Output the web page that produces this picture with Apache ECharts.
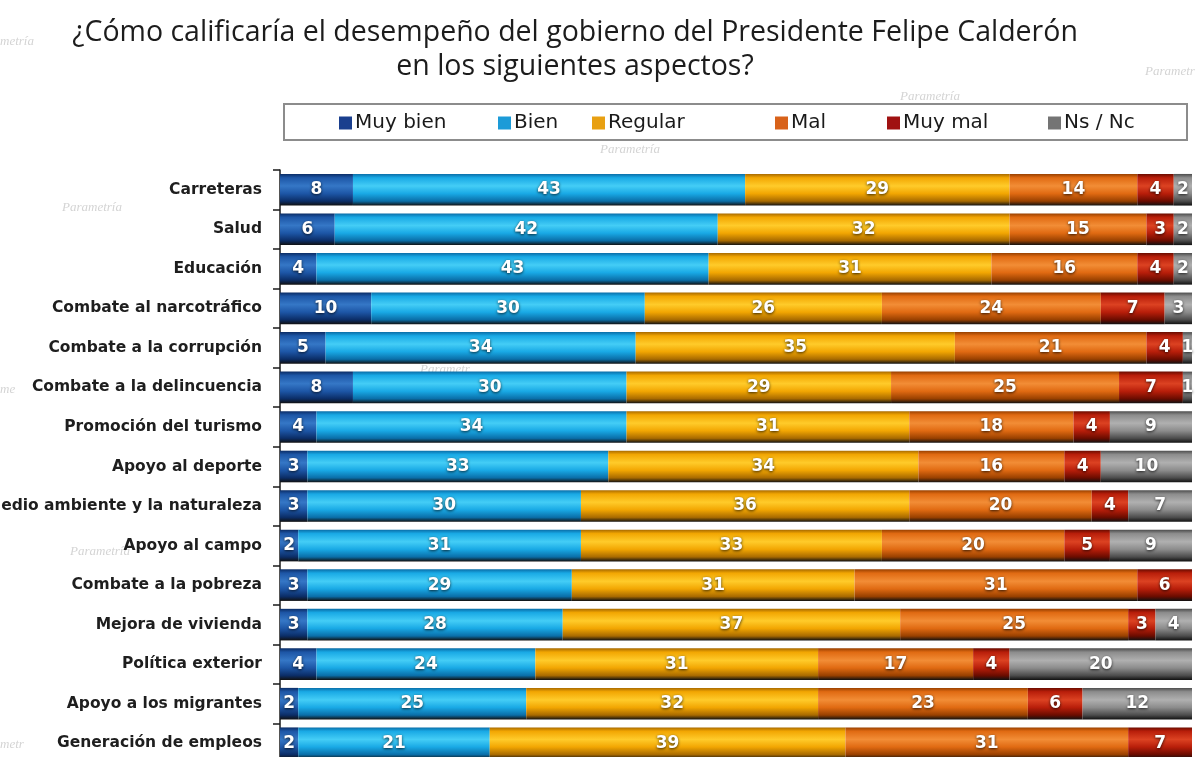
<!DOCTYPE html>
<html>
<head>
<meta charset="utf-8">
<title>Desempeño del gobierno</title>
<script src="https://cdn.jsdelivr.net/npm/echarts@6/dist/echarts.min.js"></script>
<style>
  html, body { margin: 0; padding: 0; background: #ffffff; }
  #chart { width: 1204px; height: 757px; }
</style>
</head>
<body>
<div id="chart"></div>
<script>
// Aspectos evaluados (de arriba hacia abajo)
const categories = [
  'Carreteras',
  'Salud',
  'Educación',
  'Combate al narcotráfico',
  'Combate a la corrupción',
  'Combate a la delincuencia',
  'Promoción del turismo',
  'Apoyo al deporte',
  'Medio ambiente y la naturaleza',
  'Apoyo al campo',
  'Combate a la pobreza',
  'Mejora de vivienda',
  'Política exterior',
  'Apoyo a los migrantes',
  'Generación de empleos'
];

// Porcentajes por respuesta
const muyBien = [8, 6, 4, 10, 5, 8, 4, 3, 3, 2, 3, 3, 4, 2, 2];
const bien    = [43, 42, 43, 30, 34, 30, 34, 33, 30, 31, 29, 28, 24, 25, 21];
const regular = [29, 32, 31, 26, 35, 29, 31, 34, 36, 33, 31, 37, 31, 32, 39];
const mal     = [14, 15, 16, 24, 21, 25, 18, 16, 20, 20, 31, 25, 17, 23, 31];
const muyMal  = [4, 3, 4, 7, 4, 7, 4, 4, 4, 5, 6, 3, 4, 6, 7];
const nsNc    = [2, 2, 2, 3, 1, 1, 9, 10, 7, 9, 0, 4, 20, 12, 0];

const seriesNames = ['Muy bien', 'Bien', 'Regular', 'Mal', 'Muy mal', 'Ns / Nc'];
const seriesData = [muyBien, bien, regular, mal, muyMal, nsNc];

// Tonos de cada respuesta: claro, base, oscuro, y color plano de la leyenda
const palette = [
  { light: '#3577c6', base: '#1d56a6', dark: '#0b2d66', flat: '#1a3f8e' },
  { light: '#44cdf6', base: '#19a9e5', dark: '#0a6ea8', flat: '#1c9bd8' },
  { light: '#ffcb2a', base: '#f2a602', dark: '#a86a00', flat: '#e8a012' },
  { light: '#f28d36', base: '#e06a12', dark: '#984000', flat: '#d8621a' },
  { light: '#dc4222', base: '#b81e0a', dark: '#6a0c00', flat: '#a01212' },
  { light: '#b0b0b0', base: '#8c8c8c', dark: '#4c4c4c', flat: '#747474' }
];

function barGradient(c) {
  return new echarts.graphic.LinearGradient(0, 0, 0, 1, [
    { offset: 0, color: c.dark },
    { offset: 0.12, color: c.base },
    { offset: 0.38, color: c.light },
    { offset: 0.62, color: c.base },
    { offset: 0.86, color: c.dark },
    { offset: 1, color: '#111111' }
  ]);
}

// Posiciones horizontales de cada entrada de la leyenda
const legendLeft = [339, 498, 592, 775, 887, 1048];

// Marcas de agua de fondo
const watermarks = [
  [62, 208, 'Parametría'], [600, 150, 'Parametría'], [900, 97, 'Parametría'],
  [1145, 72, 'Parametr'], [420, 370, 'Parametr'], [70, 552, 'Parametría'],
  [425, 716, 'Parametr'], [0, 42, 'metría'], [0, 390, 'me'], [0, 745, 'metr']
];

const chart = echarts.init(document.getElementById('chart'), null, { renderer: 'canvas' });

const option = {
  backgroundColor: '#ffffff',
  animation: false,
  graphic: [
    ...watermarks.map(w => ({
      type: 'text', silent: true, z: -2,
      style: {
        x: w[0], y: w[1], text: w[2],
        font: 'italic 13px "Liberation Serif"', fill: '#d4d4d4',
        align: 'left', verticalAlign: 'middle'
      }
    })),
    {
      type: 'text', silent: true,
      style: {
        x: 575, y: 33,
        text: '¿Cómo calificaría el desempeño del gobierno del Presidente Felipe Calderón',
        font: '28.5px "Open Sans"', fill: '#1c1c1c',
        align: 'center', verticalAlign: 'middle'
      }
    },
    {
      type: 'text', silent: true,
      style: {
        x: 575, y: 67,
        text: 'en los siguientes aspectos?',
        font: '28.5px "Open Sans"', fill: '#1c1c1c',
        align: 'center', verticalAlign: 'middle'
      }
    },
    {
      type: 'rect', silent: true, z: -1,
      shape: { x: 284, y: 104, width: 903, height: 36 },
      style: { fill: '#ffffff', stroke: '#8c8c8c', lineWidth: 2 }
    }
  ],
  legend: seriesNames.map((name, i) => ({
    data: [{ name: name, itemStyle: { color: palette[i].flat } }],
    left: legendLeft[i],
    top: 113,
    padding: 0,
    itemWidth: 13,
    itemHeight: 13,
    itemGap: 0,
    icon: 'rect',
    selectedMode: false,
    textStyle: {
      fontFamily: 'DejaVu Sans',
      fontSize: 20,
      color: '#1a1a1a',
      padding: [0, 0, 0, -2]
    }
  })),
  grid: {
    left: 280,
    top: 170,
    width: 912,
    height: 593,
    containLabel: false,
    outerBoundsMode: 'none'
  },
  xAxis: {
    type: 'value',
    min: 0,
    max: 100,
    show: false
  },
  yAxis: {
    type: 'category',
    data: categories,
    inverse: true,
    axisLine: { show: true, lineStyle: { color: '#1a1a1a', width: 1.5 } },
    axisTick: { show: true, length: 7, lineStyle: { color: '#1a1a1a', width: 1.5 } },
    axisLabel: {
      margin: 18,
      fontFamily: 'DejaVu Sans',
      fontWeight: 'bold',
      fontSize: 15.5,
      color: '#1e1e1e'
    },
    splitLine: { show: false }
  },
  series: seriesNames.map((name, i) => ({
    name: name,
    type: 'bar',
    stack: 'total',
    barWidth: '80%',
    data: seriesData[i],
    itemStyle: { color: barGradient(palette[i]) },
    label: {
      show: true,
      position: 'inside',
      color: '#ffffff',
      fontFamily: 'DejaVu Sans',
      fontWeight: 'bold',
      fontSize: 17,
      textShadowColor: 'rgba(0,0,0,0.8)',
      textShadowBlur: 3,
      textShadowOffsetY: 1,
      formatter: p => (p.value ? String(p.value) : '')
    }
  }))
};

chart.setOption(option);
</script>
</body>
</html>
